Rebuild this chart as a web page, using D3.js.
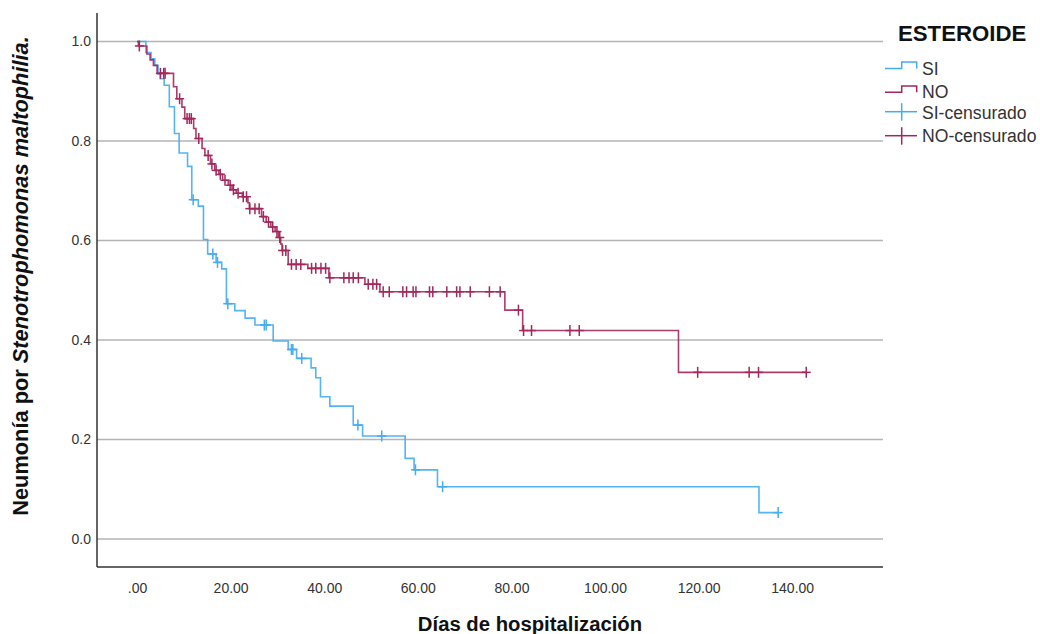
<!DOCTYPE html>
<html>
<head>
<meta charset="utf-8">
<script src="https://d3js.org/d3.v7.min.js"></script>
<style>
  html, body { margin: 0; padding: 0; background: #fff; }
  svg { display: block; font-family: "Liberation Sans", Arial, sans-serif; }
</style>
</head>
<body>
<svg id="chart" width="1040" height="634"></svg>
<script>
// Kaplan–Meier estimates: time of each event (days) and survival after it
const siEventDays = [1.9, 3.0, 3.8, 4.5, 5.0, 5.8, 6.9, 8.0, 9.0, 10.8, 11.7, 13.1, 14.2, 15.1, 16.9, 18.1, 19.1, 20.9, 23.1, 25.2, 29.1, 32.3, 34.1, 37.2, 38.2, 39.2, 41.2, 46.2, 48.2, 57.3, 59.2, 64.2, 132.9];
const siSurvival  = [0.978, 0.965, 0.952, 0.935, 0.925, 0.912, 0.869, 0.815, 0.776, 0.749, 0.682, 0.669, 0.602, 0.573, 0.556, 0.543, 0.473, 0.459, 0.444, 0.430, 0.398, 0.381, 0.363, 0.344, 0.324, 0.286, 0.267, 0.229, 0.207, 0.162, 0.139, 0.105, 0.053];
const siCensored  = [12.0, 16.2, 17.2, 19.4, 27.2, 27.6, 33.0, 33.3, 35.2, 47.2, 52.3, 59.5, 65.3, 137.0];

const noEventDays = [0.3, 2.1, 2.8, 3.5, 4.3, 7.8, 8.5, 9.6, 10.2, 12.1, 12.6, 13.9, 14.5, 15.7, 16.6, 17.5, 18.3, 19.5, 20.3, 21.2, 22.5, 23.7, 24.0, 26.6, 27.6, 28.6, 29.5, 30.2, 30.7, 31.0, 32.3, 36.5, 41.0, 48.7, 51.9, 78.6, 82.4, 115.7];
const noSurvival  = [0.991, 0.975, 0.963, 0.952, 0.936, 0.909, 0.885, 0.868, 0.845, 0.825, 0.805, 0.785, 0.771, 0.754, 0.741, 0.733, 0.721, 0.711, 0.702, 0.695, 0.688, 0.676, 0.664, 0.648, 0.637, 0.627, 0.618, 0.606, 0.593, 0.580, 0.552, 0.544, 0.525, 0.512, 0.497, 0.460, 0.419, 0.335];
const noCensored  = [0.5, 5.0, 5.7, 6.0, 9.1, 10.7, 11.2, 11.6, 13.2, 15.2, 16.0, 16.9, 17.8, 18.8, 19.9, 20.6, 21.6, 22.7, 23.4, 24.1, 25.2, 26.1, 27.0, 28.1, 29.0, 29.9, 30.5, 31.1, 31.8, 33.0, 34.0, 35.0, 37.3, 38.2, 39.3, 40.3, 41.2, 44.2, 45.3, 46.2, 47.3, 49.4, 50.4, 51.2, 52.6, 53.9, 56.8, 57.6, 59.0, 59.6, 62.5, 63.2, 66.2, 68.3, 69.0, 71.2, 75.3, 77.6, 81.5, 82.6, 84.3, 92.5, 94.5, 119.8, 130.8, 132.8, 143.0];

const xTicks = [0, 20, 40, 60, 80, 100, 120, 140];
const yTicks = [0, 0.2, 0.4, 0.6, 0.8, 1.0];

const legendLabels = ["SI", "NO", "SI-censurado", "NO-censurado"];
const legendTitle = "ESTEROIDE";
const xTitle = "Días de hospitalización";
const yTitlePlain = "Neumonía por ";
const yTitleItalic = "Stenotrophomonas maltophilia.";

const colors = { SI: "#43acf2", NO: "#a3275c" };

const plot = { left: 97, right: 883, top: 13, bottom: 567 };

const svg = d3.select("#chart");

const x = d3.scaleLinear().domain([-8.55, 159.4]).range([plot.left, plot.right]);
const y = d3.scaleLinear().domain([-0.0563, 1.0573]).range([plot.bottom, plot.top]);

// horizontal gridlines
svg.append("g")
  .selectAll("line")
  .data(yTicks)
  .join("line")
  .attr("x1", plot.left).attr("x2", plot.right)
  .attr("y1", d => y(d)).attr("y2", d => y(d))
  .attr("stroke", "#b4b4b4")
  .attr("stroke-width", 1.4);

// axes (labels only, no tick marks)
const xAxis = d3.axisBottom(x).tickValues(xTicks).tickSize(0).tickPadding(16)
  .tickFormat(d => d === 0 ? ".00" : d.toFixed(2));
const gx = svg.append("g").attr("transform", `translate(0,${plot.bottom})`).call(xAxis);
gx.select(".domain").remove();
gx.selectAll("text").attr("font-size", 14).attr("fill", "#333")
  .attr("font-family", "Liberation Sans, Arial, sans-serif");

const yAxis = d3.axisLeft(y).tickValues(yTicks).tickSize(0).tickPadding(6)
  .tickFormat(d => d.toFixed(1));
const gy = svg.append("g").attr("transform", `translate(${plot.left},0)`).call(yAxis);
gy.select(".domain").remove();
gy.selectAll("text").attr("font-size", 14).attr("fill", "#333")
  .attr("font-family", "Liberation Sans, Arial, sans-serif");

// axis lines
svg.append("line").attr("x1", plot.left).attr("x2", plot.left)
  .attr("y1", plot.top).attr("y2", plot.bottom)
  .attr("stroke", "#333").attr("stroke-width", 1.5);
svg.append("line").attr("x1", plot.left).attr("x2", plot.right)
  .attr("y1", plot.bottom).attr("y2", plot.bottom)
  .attr("stroke", "#333").attr("stroke-width", 1.5);

// survival step function helpers
function curvePoints(days, surv, censored) {
  const end = d3.max(censored.concat(days));
  const pts = [[0, 1]];
  days.forEach((d, i) => pts.push([d, surv[i]]));
  pts.push([end, surv[surv.length - 1]]);
  return pts;
}
function survivalAt(days, surv, t) {
  const i = d3.bisectRight(days, t);
  return i === 0 ? 1 : surv[i - 1];
}

const line = d3.line()
  .x(d => x(d[0]))
  .y(d => y(d[1]))
  .curve(d3.curveStepAfter);

const groups = [
  { name: "SI", days: siEventDays, surv: siSurvival, cens: siCensored },
  { name: "NO", days: noEventDays, surv: noSurvival, cens: noCensored }
];

groups.forEach(g => {
  const col = colors[g.name];
  const layer = svg.append("g").attr("class", "km-" + g.name);
  layer.append("path")
    .datum(curvePoints(g.days, g.surv, g.cens))
    .attr("d", line)
    .attr("fill", "none")
    .attr("stroke", col)
    .attr("stroke-width", 1.6)
    .attr("stroke-opacity", 0.9);

  const marks = layer.selectAll("g.cens")
    .data(g.cens)
    .join("g")
    .attr("class", "cens")
    .attr("transform", d => `translate(${x(d)},${y(survivalAt(g.days, g.surv, d))})`);
  marks.append("line").attr("x1", 0).attr("x2", 0).attr("y1", -5.5).attr("y2", 5.5)
    .attr("stroke", col).attr("stroke-width", 1.5);
  marks.append("line").attr("x1", -4.5).attr("x2", 4.5).attr("y1", 0).attr("y2", 0)
    .attr("stroke", col).attr("stroke-width", 1.5);
});

// legend
const lg = svg.append("g");
lg.append("text")
  .attr("x", 898).attr("y", 41)
  .attr("font-size", 22.2).attr("font-weight", "bold").attr("fill", "#111")
  .text(legendTitle);

const legendRows = [
  { label: legendLabels[0], color: colors.SI, kind: "step", base: 68.5, top: 62, ty: 74.5 },
  { label: legendLabels[1], color: colors.NO, kind: "step", base: 92.3, top: 86, ty: 97.8 },
  { label: legendLabels[2], color: colors.SI, kind: "cens", base: 111.7, ty: 119 },
  { label: legendLabels[3], color: colors.NO, kind: "cens", base: 135.7, ty: 142.3 }
];
legendRows.forEach(r => {
  if (r.kind === "step") {
    lg.append("path")
      .attr("d", `M885,${r.base}H901.7V${r.top}H916.7V${r.base}`)
      .attr("fill", "none").attr("stroke", r.color).attr("stroke-width", 1.5);
  } else {
    lg.append("line").attr("x1", 885).attr("x2", 917).attr("y1", r.base).attr("y2", r.base)
      .attr("stroke", r.color).attr("stroke-width", 1.5);
    lg.append("line").attr("x1", 901.7).attr("x2", 901.7).attr("y1", r.base - 8.5).attr("y2", r.base + 9)
      .attr("stroke", r.color).attr("stroke-width", 1.5);
  }
  lg.append("text")
    .attr("x", 922).attr("y", r.ty)
    .attr("font-size", 17.6).attr("fill", "#333")
    .text(r.label);
});

// axis titles
svg.append("text")
  .attr("x", 530).attr("y", 631)
  .attr("text-anchor", "middle")
  .attr("font-size", 20.3).attr("font-weight", "bold").attr("fill", "#111")
  .text(xTitle);

const yt = svg.append("text")
  .attr("transform", "translate(28,276) rotate(-90)")
  .attr("text-anchor", "middle")
  .attr("font-size", 21.8).attr("font-weight", "bold").attr("fill", "#111");
yt.append("tspan").text(yTitlePlain);
yt.append("tspan").attr("font-style", "italic").text(yTitleItalic);
</script>
</body>
</html>
